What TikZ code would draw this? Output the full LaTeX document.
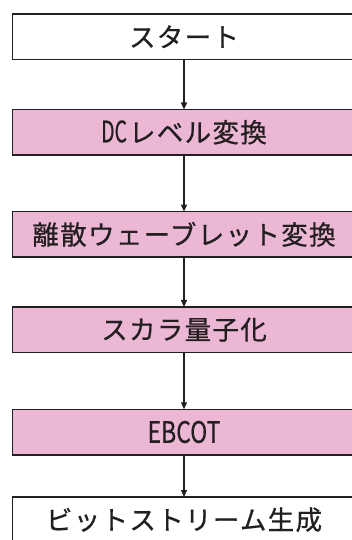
\documentclass[tikz,border=0pt]{standalone}
\usepackage{fontspec}
\setmainfont{Noto Sans CJK JP}[FakeBold=0.6]
\usetikzlibrary{arrows.meta}
\definecolor{boxpink}{HTML}{EBB7D4}
\definecolor{ink}{HTML}{231F20}
\newcommand{\jt}[1]{{\addfontfeatures{LetterSpace=5}\fontsize{26.5}{30}\selectfont #1}}
\newcommand{\lt}[2]{\scalebox{#1}[1]{\fontsize{29.5}{30}\selectfont #2}}
\begin{document}
\begin{tikzpicture}[x=1pt,y=-1pt,
  flowbox/.style={draw=ink,line width=1.5pt,minimum width=343pt,minimum height=45.5pt,
    inner sep=0pt,outer sep=0pt,text=ink,anchor=center},
  plain/.style={flowbox,fill=white},
  pink/.style={flowbox,fill=boxpink},
  flow/.style={draw=ink,line width=1.3pt,-{Triangle[length=7pt,width=6pt]}}]
\useasboundingbox (0,0) rectangle (351,540);
\fill[white] (0,0) rectangle (351,540);
\node[plain] (b1) at (184,36.75) {\jt{スタート}};
\node[pink] (b2) at (184,132.25) {\lt{0.66}{DC}\hspace{2pt}\jt{レベル変換}};
\node[pink] (b3) at (184,234.3) {\jt{離散ウェーブレット変換}};
\node[pink] (b4) at (184,329.7) {\jt{スカラ量子化}};
\node[pink] (b5) at (184,432) {\lt{0.78}{EBCOT}};
\node[plain] (b6) at (184,519.75) {\jt{ビットストリーム生成}};
\draw[flow] (b1.south) -- (b2.north);
\draw[flow] (b2.south) -- (b3.north);
\draw[flow] (b3.south) -- (b4.north);
\draw[flow] (b4.south) -- (b5.north);
\draw[flow] (b5.south) -- (b6.north);
\end{tikzpicture}
\end{document}
